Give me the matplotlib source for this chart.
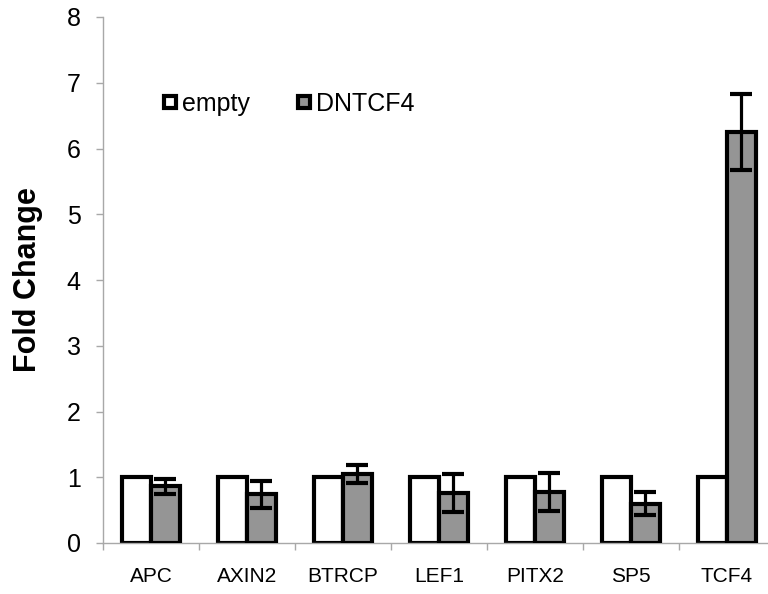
import matplotlib
matplotlib.use("Agg")
import matplotlib.pyplot as plt
from matplotlib.lines import Line2D
import numpy as np

plt.rcParams['font.family'] = ['Liberation Sans', 'DejaVu Sans']

genes = ["APC", "AXIN2", "BTRCP", "LEF1", "PITX2", "SP5", "TCF4"]
empty_vals = [1, 1, 1, 1, 1, 1, 1]
dntcf4_vals = [0.86, 0.74, 1.05, 0.76, 0.78, 0.60, 6.25]
dntcf4_err = [0.12, 0.21, 0.14, 0.29, 0.29, 0.18, 0.58]
series_names = ["empty", "DNTCF4"]

fig = plt.figure(figsize=(7.68, 5.94), dpi=100)
ax = fig.add_axes([103/768, 1-543/594, 672/768, 526/594])

x = np.arange(len(genes))
w = 0.3
gray = '#959595'
ax.bar(x - w/2, empty_vals, width=w, color='white', edgecolor='black', linewidth=3, zorder=2)
ax.bar(x + w/2, dntcf4_vals, width=w, color=gray, edgecolor='black', linewidth=3, zorder=3)
ax.errorbar(x + w/2, dntcf4_vals, yerr=dntcf4_err, fmt='none', ecolor='black',
            elinewidth=2.3, capsize=8, capthick=3, zorder=4)

ax.set_xlim(-0.5, len(genes) - 0.5)
ax.set_ylim(0, 8)
ax.set_yticks(range(0, 9))
ax.set_xticks(x)
ax.set_xticklabels(genes)
ax.set_xticks(np.arange(-0.5, len(genes)), minor=True)

for s in ['top', 'right']:
    ax.spines[s].set_visible(False)
for s in ['left', 'bottom']:
    ax.spines[s].set_color('#a8a8a8')
    ax.spines[s].set_linewidth(1)

ax.tick_params(axis='y', length=5, width=1, color='#a8a8a8', labelsize=18, pad=11)
ax.tick_params(axis='x', which='major', length=0, labelsize=15, pad=17)
ax.tick_params(axis='x', which='minor', length=5, width=1, color='#a8a8a8', direction='out')

ax.set_ylabel("Fold Change", fontsize=22, fontweight='bold')
ax.yaxis.set_label_coords(-0.089, 0.5)

handles = [
    Line2D([], [], linestyle='none', marker='s', markersize=8, markerfacecolor='white',
           markeredgecolor='black', markeredgewidth=3),
    Line2D([], [], linestyle='none', marker='s', markersize=8, markerfacecolor=gray,
           markeredgecolor='black', markeredgewidth=3),
]
ax.legend(handles, series_names, ncol=2, frameon=False, fontsize=18,
          loc='center left', bbox_to_anchor=(0.0885, 0.835), borderaxespad=0, borderpad=0,
          handlelength=0.6, handletextpad=0.2, columnspacing=1.84)

fig.savefig("out.png", dpi=100)
